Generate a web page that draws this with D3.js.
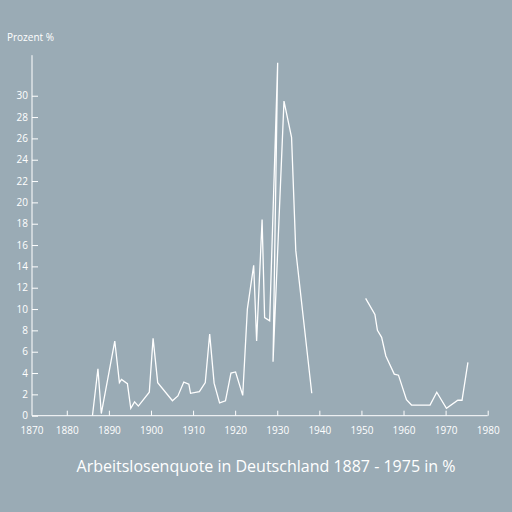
<!DOCTYPE html>
<html>
<head>
<meta charset="utf-8">
<script src="https://cdn.jsdelivr.net/npm/d3@7"></script>
<style>
    body { margin: 0; background: #9aabb5; }
    svg { display: block; }
    text { font-family: "Open Sans", sans-serif; fill: #ffffff; }
</style>
</head>
<body>
<div id="chart"></div>
<script>
// Years as placed on the chart (the source lists 1930 before 1929)
var years = [1886.1, 1887.4, 1888.2, 1891.4, 1892.5, 1893.0, 1894.4, 1895.2, 1896.1, 1897.0,
    1899.6, 1900.5, 1901.6, 1905.1, 1906.4, 1907.8, 1909.0, 1909.4, 1911.5, 1912.9,
    1913.95, 1915.0, 1916.3, 1917.7, 1919.0, 1920.1, 1921.8, 1922.9, 1924.4, 1925.1,
    1926.4, 1927.0, 1928.2, 1930.1, 1929.0, 1931.6, 1933.4, 1934.4, 1938.2,
    1945,
    1951.0, 1953.2, 1953.8, 1954.8, 1955.8, 1957.8, 1958.8, 1960.7, 1961.9, 1966.3,
    1967.9, 1970.2, 1972.9, 1973.9, 1975.3];

// Arbeitslosenquote in %, null = no data (gap 1939 - 1950)
var rates = [0, 4.4, 0.2, 7.0, 3.1, 3.4, 3.0, 0.7, 1.3, 0.9,
    2.2, 7.25, 3.1, 1.4, 1.85, 3.15, 2.95, 2.1, 2.25, 3.1,
    7.65, 3.05, 1.2, 1.4, 4.0, 4.1, 1.9, 10.0, 14.1, 7.0,
    18.4, 9.2, 8.9, 33.1, 5.05, 29.5, 26.1, 15.5, 2.1,
    null,
    11.0, 9.5, 8.0, 7.35, 5.6, 3.9, 3.8, 1.5, 1.0, 1.0,
    2.2, 0.7, 1.45, 1.45, 5.0];

var xTicks = [1870, 1880, 1890, 1900, 1910, 1920, 1930, 1940, 1950, 1960, 1970, 1980];
var yTicks = [0, 2, 4, 6, 8, 10, 12, 14, 16, 18, 20, 22, 24, 26, 28, 30];

var width = 512, height = 512;
var axisX = 32;

var data = years.map(function(yr, i) {
    return { year: yr, rate: rates[i] };
});

var svg = d3.select('#chart')
    .append('svg')
    .attr('width', width)
    .attr('height', height);

var x = d3.scaleLinear().domain([1870, 1980]).range([24.7, 487.7]);
var y = d3.scaleLinear().domain([0, 33.8]).range([415.7, 55.2]);

// x axis
var gx = svg.append('g')
    .attr('transform', 'translate(0,' + y(0) + ')')
    .call(d3.axisBottom(x).tickValues(xTicks).tickFormat(d3.format('d'))
        .tickSize(-5).tickPadding(11));
gx.select('.domain').remove();
gx.selectAll('.tick line').attr('stroke', '#fff');
gx.selectAll('.tick text').attr('font-size', 10).attr('fill', '#fff');
// first label sits on the axis corner, without tick
gx.selectAll('.tick').filter(function(d) { return d === 1870; })
    .attr('transform', 'translate(' + axisX + ',0)')
    .select('line').remove();
gx.append('line')
    .attr('x1', axisX).attr('x2', x(1980))
    .attr('stroke', '#fff').attr('stroke-width', 1);

// y axis
var gy = svg.append('g')
    .attr('transform', 'translate(' + axisX + ',0)')
    .call(d3.axisLeft(y).tickValues(yTicks).tickSize(-6).tickPadding(4));
gy.select('.domain').remove();
gy.selectAll('.tick line').attr('stroke', '#fff');
gy.selectAll('.tick text').attr('font-size', 10).attr('fill', '#fff');
gy.append('line')
    .attr('y1', y(0)).attr('y2', y(33.8))
    .attr('stroke', '#fff').attr('stroke-width', 1);

svg.append('text')
    .attr('x', 7).attr('y', 41)
    .attr('font-size', 10)
    .text('Prozent %');

// the series line
var line = d3.line()
    .defined(function(d) { return d.rate !== null; })
    .x(function(d) { return x(d.year); })
    .y(function(d) { return y(d.rate); });

svg.append('path')
    .datum(data)
    .attr('d', line)
    .attr('fill', 'none')
    .attr('stroke', '#fff')
    .attr('stroke-width', 1.3)
    .attr('stroke-linejoin', 'miter');

svg.append('text')
    .attr('x', 266).attr('y', 472)
    .attr('text-anchor', 'middle')
    .attr('font-size', 16)
    .text('Arbeitslosenquote in Deutschland 1887 - 1975 in %');
</script>
</body>
</html>
